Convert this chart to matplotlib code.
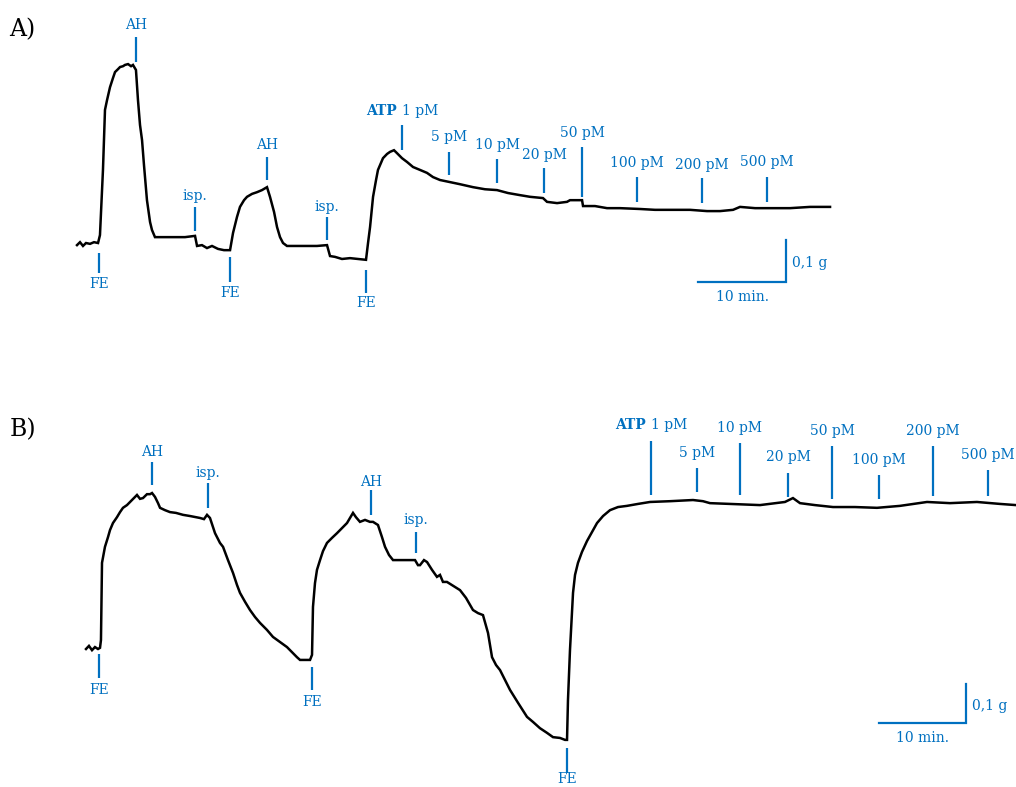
import matplotlib
matplotlib.use("Agg")
import matplotlib.pyplot as plt

# ---------------- data (time in min, force in g relative to baseline) -------------
trace_a_t = [0, 0.34, 0.68, 1.02, 1.48, 1.93, 2.39, 2.61, 2.95, 3.18, 3.41, 3.75, 4.09, 4.32,
             4.66, 4.89, 5.23, 5.45, 5.80, 6.14, 6.36, 6.70, 6.93, 7.16, 7.39, 7.61, 7.95, 8.30,
             8.52, 8.86, 10.00, 11.14, 12.27, 13.41, 13.64, 14.20, 14.77, 15.34, 16.02, 16.70,
             17.39, 17.73, 18.18, 18.52, 18.98, 19.32, 19.89, 20.45, 21.02, 21.59, 21.93, 22.39,
             22.73, 23.07, 23.41, 23.86, 25.00, 26.14, 27.27, 28.41, 28.75, 29.32, 30.11, 31.02,
             31.93, 32.84, 33.07, 33.30, 33.64, 33.98, 34.20, 34.77, 35.23, 35.57, 36.02, 36.36,
             36.93, 37.50, 38.18, 38.98, 39.77, 40.45, 41.25, 42.39, 43.52, 45.00, 46.36, 47.73,
             48.98, 50.34, 51.48, 52.95, 53.41, 54.55, 55.68, 56.02, 57.39, 57.50, 58.86, 60.23,
             61.70, 63.98, 65.68, 67.73, 69.66, 71.59, 73.07, 74.55, 75.34, 77.05, 79.09, 81.02,
             83.30, 85.57]
trace_a_g = [-0.005, 0.002, -0.007, 0.000, -0.002, 0.002, 0.000, 0.019, 0.174, 0.317, 0.340,
             0.371, 0.393, 0.407, 0.414, 0.419, 0.421, 0.424, 0.426, 0.421, 0.424, 0.412, 0.340,
             0.281, 0.245, 0.186, 0.102, 0.050, 0.031, 0.014, 0.014, 0.014, 0.014, 0.017, -0.007,
             -0.005, -0.012, -0.007, -0.014, -0.017, -0.017, 0.024, 0.062, 0.086, 0.102, 0.110,
             0.117, 0.121, 0.126, 0.133, 0.110, 0.074, 0.038, 0.014, 0.000, -0.007, -0.007,
             -0.007, -0.007, -0.005, -0.031, -0.033, -0.038, -0.036, -0.038, -0.040, 0.000,
             0.038, 0.110, 0.150, 0.174, 0.202, 0.212, 0.217, 0.221, 0.214, 0.202, 0.193, 0.181,
             0.174, 0.167, 0.157, 0.150, 0.145, 0.140, 0.133, 0.128, 0.126, 0.119, 0.114, 0.110,
             0.107, 0.098, 0.095, 0.098, 0.102, 0.102, 0.088, 0.088, 0.083, 0.083, 0.081, 0.079,
             0.079, 0.079, 0.076, 0.076, 0.079, 0.086, 0.083, 0.083, 0.083, 0.086, 0.086]

trace_b_t = [0, 0.34, 0.69, 1.03, 1.38, 1.61, 1.72, 1.84, 2.18, 2.53, 2.76, 3.10, 3.56, 3.91,
             4.25, 4.71, 5.29, 5.63, 5.86, 6.21, 6.55, 7.01, 7.36, 7.59, 7.93, 8.28, 8.51, 9.08,
             9.66, 10.34, 11.15, 11.95, 13.10, 13.56, 13.91, 14.25, 14.83, 15.40, 15.75, 16.32,
             16.90, 17.36, 17.70, 18.28, 18.85, 19.43, 20.00, 20.80, 21.49, 22.30, 23.10, 23.68,
             24.25, 24.60, 25.17, 25.75, 25.98, 26.09, 26.32, 26.55, 26.90, 27.24, 27.70, 28.28,
             28.85, 29.43, 30.00, 30.34, 30.69, 31.03, 31.49, 32.07, 32.64, 32.99, 33.56, 34.02,
             34.37, 34.83, 35.29, 36.09, 37.01, 37.82, 38.16, 38.39, 38.85, 39.20, 39.77, 40.34,
             40.69, 41.03, 41.49, 42.07, 42.99, 43.68, 44.48, 45.06, 45.63, 46.21, 46.67, 47.13,
             47.59, 48.16, 48.74, 49.66, 50.69, 51.38, 52.18, 52.99, 53.68, 54.48, 55.06, 55.29,
             55.40, 55.63, 55.98, 56.21, 56.55, 57.01, 57.59, 58.16, 58.74, 59.43, 60.23, 61.15,
             62.18, 63.45, 64.83, 67.13, 69.77, 70.92, 71.72, 74.02, 77.47, 80.34, 81.26, 82.07,
             83.79, 85.86, 88.39, 90.92, 93.56, 96.67, 99.31, 102.41, 105.06, 106.90]
trace_b_g = [0.000, 0.008, -0.003, 0.005, 0.000, 0.003, 0.023, 0.221, 0.262, 0.287, 0.305,
             0.323, 0.338, 0.351, 0.362, 0.369, 0.382, 0.390, 0.395, 0.385, 0.387, 0.397, 0.397,
             0.400, 0.390, 0.374, 0.362, 0.356, 0.351, 0.349, 0.344, 0.341, 0.336, 0.333, 0.344,
             0.336, 0.297, 0.272, 0.262, 0.228, 0.195, 0.164, 0.144, 0.121, 0.100, 0.082, 0.067,
             0.049, 0.031, 0.018, 0.005, -0.008, -0.021, -0.028, -0.028, -0.028, -0.015, 0.108,
             0.169, 0.203, 0.228, 0.251, 0.272, 0.285, 0.297, 0.310, 0.323, 0.336, 0.349, 0.338,
             0.326, 0.331, 0.326, 0.326, 0.318, 0.287, 0.262, 0.241, 0.228, 0.228, 0.228, 0.228,
             0.215, 0.215, 0.228, 0.223, 0.203, 0.185, 0.190, 0.172, 0.172, 0.164, 0.151, 0.131,
             0.100, 0.092, 0.087, 0.041, -0.021, -0.041, -0.054, -0.079, -0.105, -0.138, -0.174,
             -0.187, -0.203, -0.215, -0.226, -0.228, -0.233, -0.233, -0.131, -0.003, 0.144, 0.190,
             0.221, 0.249, 0.277, 0.300, 0.323, 0.341, 0.356, 0.364, 0.367, 0.372, 0.377, 0.379,
             0.382, 0.379, 0.374, 0.372, 0.369, 0.377, 0.387, 0.374, 0.369, 0.364, 0.364, 0.362,
             0.367, 0.377, 0.374, 0.377, 0.372, 0.369]

# events: label, time (min)
events_a_labels = ["FE", "AH", "isp.", "FE", "AH", "isp.", "FE"]
events_a_t = [2.50, 6.70, 13.41, 17.39, 21.59, 28.41, 32.84]
events_b_labels = ["FE", "AH", "isp.", "FE", "AH", "isp.", "FE"]
events_b_t = [1.49, 7.59, 14.02, 25.98, 32.76, 37.93, 55.29]

atp_labels = ["1 pM", "5 pM", "10 pM", "20 pM", "50 pM", "100 pM", "200 pM", "500 pM"]
atp_a_t = [36.93, 42.27, 47.73, 53.07, 57.39, 63.64, 71.02, 78.41]
atp_b_t = [64.94, 70.23, 75.17, 80.69, 85.75, 91.15, 97.36, 103.68]

scale_time_min = 10
scale_force_g = 0.1

# ---------------- layout ----------------
BLUE = "#0070C0"
plt.rcParams["font.family"] = ["DejaVu Serif"]
FS = 10

fig = plt.figure(figsize=(10.16, 7.87), dpi=100)
axA = fig.add_axes([0, 457 / 787, 1, 330 / 787])
axB = fig.add_axes([0, 0, 1, 397 / 787])
axA.set_xlim(-8.75, 106.70)
axA.set_ylim(-0.2071, 0.5786)
axB.set_xlim(-9.885, 106.897)
axB.set_ylim(-0.3538, 0.6641)
for ax in (axA, axB):
    ax.axis("off")

axA.plot(trace_a_t, trace_a_g, color="black", lw=1.8, solid_joinstyle="miter")
axB.plot(trace_b_t, trace_b_g, color="black", lw=1.8, solid_joinstyle="miter")

# tick spans (bottom, top) and label y for the events
ev_a_span = [(-0.071, -0.024), (0.431, 0.490), (0.029, 0.086), (-0.093, -0.033),
             (0.150, 0.205), (0.007, 0.062), (-0.119, -0.064)]
ev_a_lab = [-0.098, 0.519, 0.112, -0.119, 0.233, 0.086, -0.143]
ev_b_span = [(-0.074, -0.013), (0.421, 0.479), (0.362, 0.426), (-0.105, -0.046),
             (0.344, 0.408), (0.246, 0.300), (-0.318, -0.254)]
ev_b_lab = [-0.105, 0.505, 0.451, -0.136, 0.428, 0.331, -0.333]

atp_a_span = [(0.221, 0.281), (0.162, 0.217), (0.143, 0.200), (0.119, 0.179),
              (0.110, 0.229), (0.098, 0.157), (0.095, 0.155), (0.098, 0.157)]
atp_a_lab = [0.314, 0.252, 0.233, 0.210, 0.262, 0.190, 0.186, 0.193]
atp_b_span = [(0.395, 0.533), (0.403, 0.464), (0.395, 0.528), (0.390, 0.451),
              (0.385, 0.521), (0.385, 0.446), (0.392, 0.521), (0.392, 0.459)]
atp_b_lab = [0.574, 0.503, 0.567, 0.492, 0.559, 0.485, 0.559, 0.497]


def draw_events(ax, labels, ts, spans, laby):
    for lab, t, (y0, y1), ly in zip(labels, ts, spans, laby):
        ax.plot([t, t], [y0, y1], color=BLUE, lw=1.6, solid_capstyle="butt")
        ax.text(t, ly, lab, color=BLUE, fontsize=FS, ha="center", va="center")


def draw_atp(ax, labels, ts, spans, laby, atp_dx):
    for i, (lab, t, (y0, y1), ly) in enumerate(zip(labels, ts, spans, laby)):
        ax.plot([t, t], [y0, y1], color=BLUE, lw=1.6, solid_capstyle="butt")
        if i == 0:
            ax.text(t - atp_dx, ly, "ATP", color=BLUE, fontsize=FS, fontweight="bold",
                    ha="right", va="center")
            ax.text(t, ly, lab, color=BLUE, fontsize=FS, ha="left", va="center")
        else:
            ax.text(t, ly, lab, color=BLUE, fontsize=FS, ha="center", va="center")


def draw_scale(ax, t_end, g_bottom, g_text_dy):
    ax.plot([t_end - scale_time_min, t_end, t_end],
            [g_bottom, g_bottom, g_bottom + scale_force_g],
            color=BLUE, lw=1.6, solid_joinstyle="miter")
    ax.text(t_end + 0.7, g_bottom + scale_force_g * 0.45, "0,1 g", color=BLUE,
            fontsize=FS, ha="left", va="center")
    ax.text(t_end - scale_time_min / 2, g_bottom - g_text_dy, "10 min.", color=BLUE,
            fontsize=FS, ha="center", va="center")


draw_events(axA, events_a_labels, events_a_t, ev_a_span, ev_a_lab)
draw_events(axB, events_b_labels, events_b_t, ev_b_span, ev_b_lab)
draw_atp(axA, atp_labels, atp_a_t, atp_a_span, atp_a_lab, 0.55)
draw_atp(axB, atp_labels, atp_b_t, atp_b_span, atp_b_lab, 0.55)
draw_scale(axA, 80.57, -0.093, 0.036)
draw_scale(axB, 101.15, -0.190, 0.038)

axA.text(-7.7, 0.507, "A)", fontsize=17, ha="left", va="center", color="black")
axB.text(-8.74, 0.562, "B)", fontsize=17, ha="left", va="center", color="black")

fig.savefig("out.png", dpi=100)
